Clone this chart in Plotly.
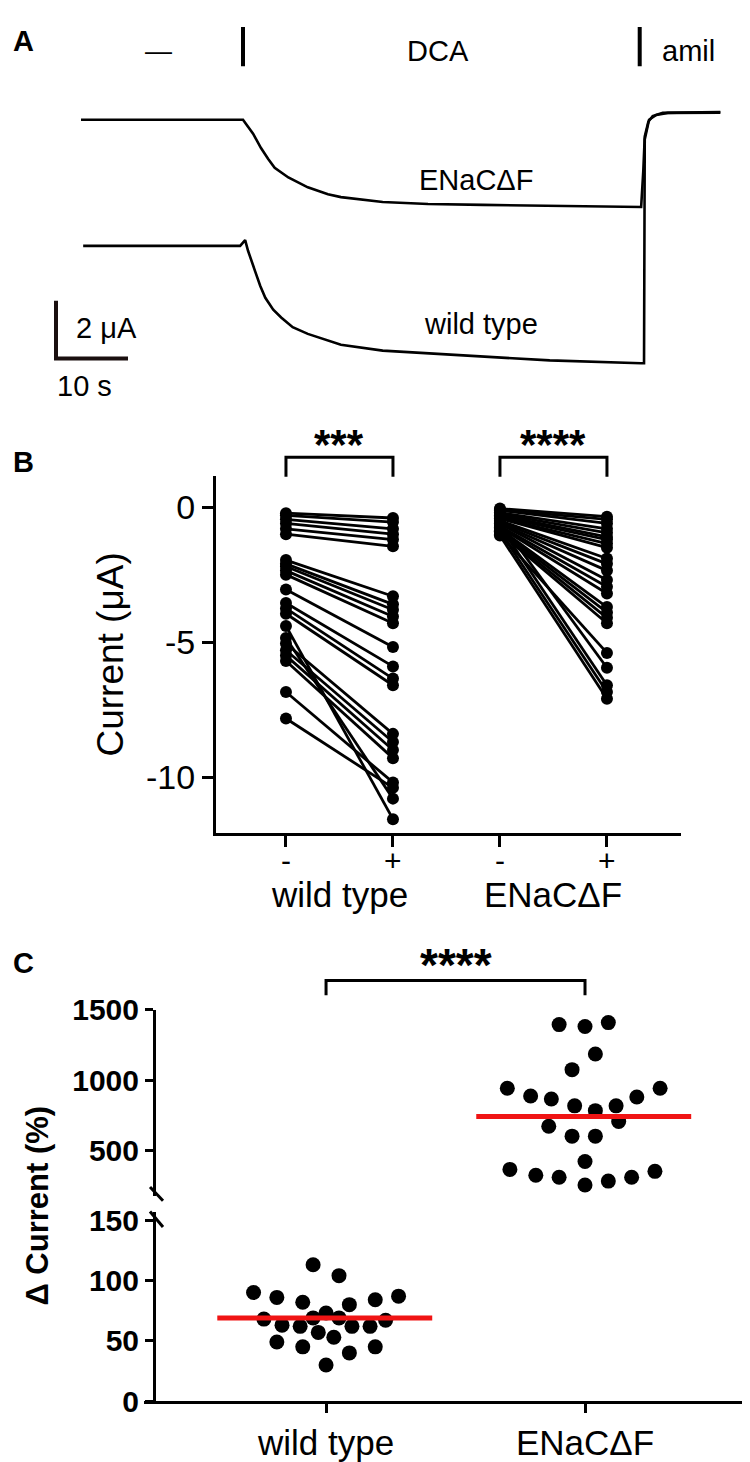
import plotly.graph_objects as go

W, H = 750, 1462

# ---- panel A: example traces (time in s, current in uA, offset per trace)
enac_t = [0, 22.5, 23.9, 25.0, 26.0, 26.9, 28.8, 31.5, 34.3, 36.1, 41.9, 48.2, 55.8, 66.3, 77.8,
          78.1, 78.3, 78.8, 79.4, 80.8, 88.8]
enac_i = [-0.27, -0.27, -0.75, -1.25, -1.63, -1.93, -2.27, -2.61, -2.85, -2.95, -3.12, -3.19, -3.22, -3.25, -3.29,
          -2.03, -0.85, -0.34, -0.14, -0.03, 0.0]
wt_t = [0.3, 22.1, 22.8, 23.2, 24.2, 24.9, 25.6, 26.7, 27.8, 29.4, 31.5, 36.1, 41.9, 55.8, 65.1, 77.8,
        78.2, 78.3, 78.9, 79.9, 81.5, 88.8]
wt_i = [-4.64, -4.64, -4.44, -4.81, -5.53, -6.03, -6.44, -6.85, -7.12, -7.46, -7.69, -8.07, -8.27, -8.47, -8.61, -8.71,
        -8.71, -0.95, -0.27, -0.10, -0.03, -0.02]

# ---- panel B: paired currents before (-) and after (+) DCA
wt_minus = [-0.22, -0.3, -0.45, -0.6, -0.8, -1.0, -1.96, -2.1, -2.2, -2.35, -2.5, -3.05,
            -3.55, -3.75, -3.95, -4.4, -4.85, -5.05, -5.3, -5.5, -5.7, -6.85, -7.83]
wt_plus = [-0.4, -0.55, -0.8, -1.0, -1.2, -1.45, -3.3, -3.6, -3.8, -4.05, -4.3, -5.18,
           -5.9, -6.35, -6.6, -11.56, -10.8, -8.4, -8.7, -9.0, -9.3, -10.2, -10.4]
enac_minus = [-0.05, -0.1, -0.12, -0.2, -0.25, -0.3, -0.35, -0.4, -0.42, -0.5, -0.55, -0.6,
              -0.62, -0.7, -0.75, -0.8, -0.85, -0.9, -0.95, -1.0, -0.55, -0.7, -0.9, -1.05]
enac_plus = [-0.35, -0.45, -0.6, -0.8, -0.95, -1.1, -1.2, -1.35, -1.5, -1.9, -2.1, -2.35,
             -2.7, -2.95, -3.2, -3.7, -3.9, -4.1, -4.3, -5.4, -5.95, -6.6, -6.85, -7.1]

# ---- panel C: delta current (%) per oocyte, with horizontal scatter offsets
wt_dx = [-0.05, 0.05, -0.28, -0.19, -0.09, 0.09, 0.19, 0.28, -0.24, -0.17, -0.1, -0.05,
         0.0, 0.05, 0.1, 0.17, 0.23, -0.03, 0.03, -0.19, -0.09, 0.09, 0.19, 0.0]
wt_val = [113, 104, 90, 86, 82, 80, 84, 87, 68, 63, 62, 69,
          73, 69, 62, 62, 67, 57, 53, 49, 45, 40, 45, 30]
enac_dx = [-0.1, 0.0, 0.09, 0.04, -0.05, -0.3, -0.21, -0.13, -0.04, 0.04, 0.12, 0.2, 0.29,
           -0.14, 0.13, -0.05, 0.04, 0.0, -0.29, -0.19, -0.1, 0.0, 0.09, 0.18, 0.27]
enac_val = [1396, 1382, 1410, 1187, 1076, 944, 889, 868, 819, 785, 819, 882, 944,
            674, 708, 604, 604, 424, 368, 326, 312, 257, 285, 312, 354]
means = [69, 743]
groups = ["wild type", "ENaC\u0394F"]

FONT = "Liberation Sans, Arial, sans-serif"


def px(p):
    return p / W


def py(p):
    return 1 - p / H


fig = go.Figure()

# panel A
for t, i in [(enac_t, enac_i), (wt_t, wt_i)]:
    fig.add_trace(go.Scatter(x=t, y=i, mode="lines", line=dict(color="black", width=2.6),
                             xaxis="x", yaxis="y", showlegend=False, hoverinfo="skip"))
# scale bar: 10 s x 2 uA
sb_t, sb_i = -3.47, -8.54
fig.add_trace(go.Scatter(x=[sb_t, sb_t, sb_t + 10], y=[sb_i + 2, sb_i, sb_i],
                         mode="lines", line=dict(color="#1a0f0f", width=4),
                         xaxis="x", yaxis="y", showlegend=False, hoverinfo="skip"))


# panel B
def pairs(a, b, x0):
    xs, ys = [], []
    for u, v in zip(a, b):
        xs += [x0, x0 + 1, None]
        ys += [u, v, None]
    return xs, ys


for a, b, x0 in [(wt_minus, wt_plus, 0), (enac_minus, enac_plus, 2)]:
    xs, ys = pairs(a, b, x0)
    fig.add_trace(go.Scatter(x=xs, y=ys, mode="lines+markers",
                             line=dict(color="black", width=2.8),
                             marker=dict(color="black", size=12),
                             xaxis="x2", yaxis="y2", showlegend=False, cliponaxis=False))

# panel C
fig.add_trace(go.Scatter(x=[0 + d for d in wt_dx], y=wt_val, mode="markers",
                         marker=dict(color="black", size=15), xaxis="x3", yaxis="y3",
                         showlegend=False, cliponaxis=False))
fig.add_trace(go.Scatter(x=[1 + d for d in enac_dx], y=enac_val, mode="markers",
                         marker=dict(color="black", size=15), xaxis="x3", yaxis="y4",
                         showlegend=False, cliponaxis=False))
for k, ax in enumerate(["y3", "y4"]):
    fig.add_trace(go.Scatter(x=[k - 0.42, k + 0.41], y=[means[k], means[k]], mode="lines",
                             line=dict(color="#f01414", width=5), xaxis="x3", yaxis=ax,
                             showlegend=False))

ann = []
shapes = []


def atext(x, y, s, size=29, xref="x", yref="y", xanchor="center", bold=False, angle=0):
    ann.append(dict(x=x, y=y, xref=xref, yref=yref, text=f"<b>{s}</b>" if bold else s,
                    showarrow=False, xanchor=xanchor, yanchor="middle", textangle=angle,
                    font=dict(family=FONT, size=size, color="black")))


# panel A labels
atext(10.7, 2.1, "\u2014", size=27)
atext(49.6, 2.1, "DCA")
atext(84.4, 2.1, "amil")
atext(54.9, -2.37, "ENaC\u0394F")
atext(55.6, -7.36, "wild type")
atext(sb_t + 2.5, sb_i + 1.05, "2 \u03bcA", xanchor="left")
atext(sb_t + 4.0, sb_i - 0.95, "10 s")
for t in [22.5, 77.6]:
    shapes.append(dict(type="line", xref="x", yref="y", x0=t, x1=t, y0=2.95, y1=1.59,
                       line=dict(color="black", width=4)))

# panel letters
atext(px(3), py(17), "A", size=29, xref="paper", yref="paper", bold=True, xanchor="left")
atext(px(3), py(448), "B", size=29, xref="paper", yref="paper", bold=True, xanchor="left")
atext(px(3), py(960), "C", size=29, xref="paper", yref="paper", bold=True, xanchor="left")

# panel B tick labels, brackets, stars, group labels
for k, s in enumerate(["-", "+", "-", "+"]):
    atext(k, py(855), s, size=30, xref="x2", yref="paper")
for x0, stars in [(0, "***"), (2, "****")]:
    shapes.append(dict(type="path", xref="x2", yref="paper",
                       path=f"M {x0},{py(463)} L {x0},{py(443)} L {x0 + 1},{py(443)} L {x0 + 1},{py(463)}",
                       line=dict(color="black", width=3)))
    atext(x0 + 0.5, py(430), stars, size=42, xref="x2", yref="paper", bold=True)
    atext(x0 + 0.5, py(890), groups[x0 // 2], size=35, xref="x2", yref="paper")

# panel C bracket + stars
shapes.append(dict(type="path", xref="x3", yref="paper",
                   path=f"M 0,{py(993)} L 0,{py(978)} L 1,{py(978)} L 1,{py(993)}",
                   line=dict(color="black", width=3)))
atext(0.5, py(962), "****", size=46, xref="x3", yref="paper", bold=True)
atext(px(30), py(1208), "\u0394 Current (%)", size=31, xref="paper", yref="paper",
      bold=True, angle=-90)

# axis break marks
for y0, y1 in [(1189, 1203), (1214, 1230)]:
    shapes.append(dict(type="line", xref="paper", yref="paper", x0=px(142), x1=px(155),
                       y0=py(y0), y1=py(y1), line=dict(color="black", width=3)))

axis_common = dict(showgrid=False, zeroline=False, showline=True, linecolor="black", linewidth=3,
                   ticks="outside", tickcolor="black", tickwidth=3, mirror=False)

fig.update_layout(
    width=W, height=H, margin=dict(l=0, r=0, t=0, b=0),
    paper_bgcolor="white", plot_bgcolor="rgba(0,0,0,0)",
    showlegend=False, annotations=ann, shapes=shapes,
    xaxis=dict(domain=[0, 1], range=[-10.14, 94.03], visible=False, anchor="y"),
    yaxis=dict(domain=[py(400), 1], range=[-10.51, 3.05], visible=False, anchor="x"),
    xaxis2=dict(domain=[px(208), px(673)], range=[-0.654, 3.692], anchor="y2",
                tickvals=[0, 1, 2, 3], showticklabels=False, ticklen=11, **axis_common),
    yaxis2=dict(domain=[py(827), py(462)], range=[-12.07, 1.16], anchor="x2",
                tickvals=[0, -5, -10], ticktext=["0", "-5", "-10"], ticklen=11,
                tickfont=dict(family=FONT, size=34, color="black"),
                title=dict(text="Current (\u03bcA)", font=dict(family=FONT, size=37, color="black"),
                           standoff=12), **axis_common),
    xaxis3=dict(domain=[px(136), 1], range=[-0.703, 1.668], anchor="y3",
                tickvals=[0, 1], ticktext=groups, ticklen=9,
                tickfont=dict(family=FONT, size=35, color="black"), **axis_common),
    yaxis3=dict(domain=[py(1408), py(1215)], range=[0, 156.4], anchor="free", position=px(146),
                tickvals=[0, 50, 100, 150], ticklen=8,
                tickfont=dict(family=FONT, size=30, color="black", weight="bold"), **axis_common),
    yaxis4=dict(domain=[py(1198), py(1008)], range=[180.6, 1500], anchor="free", position=px(146),
                tickvals=[500, 1000, 1500], ticklen=8,
                tickfont=dict(family=FONT, size=30, color="black", weight="bold"), **axis_common),
)

fig.write_html("out.html")
